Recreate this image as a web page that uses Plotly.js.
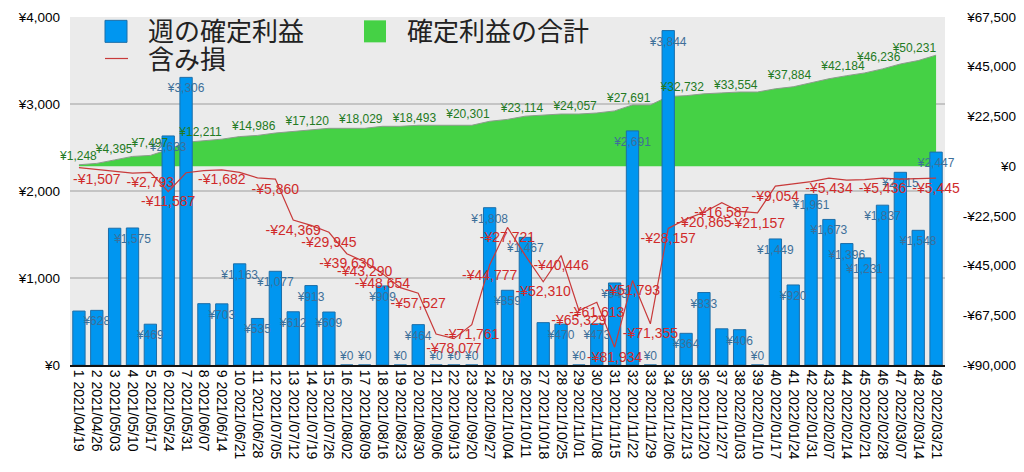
<!DOCTYPE html>
<html><head><meta charset="utf-8">
<script src="https://cdn.plot.ly/plotly-3.0.1.min.js"></script>
<style>html,body{margin:0;padding:0;background:#fff;} #chart{width:1024px;height:472px;}</style>
</head><body><div id="chart"></div>
<script>
const weeks = ['1 2021/04/19','2 2021/04/26','3 2021/05/03','4 2021/05/10','5 2021/05/17','6 2021/05/24','7 2021/05/31','8 2021/06/07','9 2021/06/14','10 2021/06/21','11 2021/06/28','12 2021/07/05','13 2021/07/12','14 2021/07/19','15 2021/07/26','16 2021/08/02','17 2021/08/09','18 2021/08/16','19 2021/08/23','20 2021/08/30','21 2021/09/06','22 2021/09/13','23 2021/09/20','24 2021/09/27','25 2021/10/04','26 2021/10/11','27 2021/10/18','28 2021/10/25','29 2021/11/01','30 2021/11/08','31 2021/11/15','32 2021/11/22','33 2021/11/29','34 2021/12/06','35 2021/12/13','36 2021/12/20','37 2021/12/27','38 2022/01/03','39 2022/01/10','40 2022/01/17','41 2022/01/24','42 2022/01/31','43 2022/02/07','44 2022/02/14','45 2022/02/21','46 2022/02/28','47 2022/03/07','48 2022/03/14','49 2022/03/21'];
const weeklyProfit = [620,628,1572,1575,469,2633,3306,705,703,1163,535,1077,612,913,609,0,0,909,0,464,0,0,0,1808,859,1467,487,470,0,473,943,2691,0,3844,364,833,416,406,0,1449,920,1961,1673,1396,1231,1837,2215,1548,2447];
const cumulativeProfit = [620,1248,2820,4395,4864,7497,10803,11508,12211,13374,13909,14986,15598,16511,17120,17120,17120,18029,18029,18493,18493,18493,18493,20301,21160,22627,23114,23584,23584,24057,25000,27691,27691,31535,31899,32732,33148,33554,33554,35003,35923,37884,39557,40953,42184,44021,46236,47784,50231];
const unrealizedLoss = [-700,-1507,-2600,-3200,-2793,-11587,-3000,-2000,-1682,-2800,-5300,-5860,-24369,-26800,-29945,-39630,-43290,-48654,-55000,-57527,-76000,-78077,-71761,-44777,-27721,-40500,-52310,-40446,-65329,-61613,-81934,-51793,-71355,-28157,-24000,-20865,-16587,-20500,-21157,-9054,-8000,-7000,-5434,-6300,-6100,-5436,-5900,-5700,-5445];
const barLabelHidden = [1,3,8,27,37];
const cumLabelShown = [2,4,6,9,12,15,18,21,24,27,30,33,36,39,42,45,47,49];
const lossLabelShown = [2,5,6,9,12,13,15,16,17,18,20,22,23,24,25,27,28,29,30,31,32,33,34,36,37,39,40,43,46,49];
const leftTicks = [0,1000,2000,3000,4000];
const rightTicks = [-90000,-67500,-45000,-22500,0,22500,45000,67500];
const seriesNames = ['週の確定利益','確定利益の合計','含み損'];

function yen(v){ const s='¥'+Math.abs(v).toLocaleString('en-US'); return v<0?'-'+s:s; }

const numFont = 'Liberation Sans, Arial, sans-serif';
const hiddenMarker = (size)=>({size:size, opacity:0, color:'rgba(0,0,0,0)'});
const data = [
  {type:'scatter', x:weeks, y:cumulativeProfit, yaxis:'y', mode:'lines', fill:'tozeroy',
   fillcolor:'#45d145', line:{color:'#8c9c8c', width:1}, name:seriesNames[1], legend:'legend', legendrank:2, hoverinfo:'skip'},
  {type:'bar', x:weeks, y:weeklyProfit, yaxis:'y2', name:seriesNames[0], legend:'legend', legendrank:1,
   marker:{color:'#0096f0', line:{color:'#1d6ea8', width:1}}, hoverinfo:'skip'},
  {type:'scatter', x:weeks, y:weeklyProfit, yaxis:'y2', mode:'markers+text', showlegend:false, cliponaxis:false,
   marker: hiddenMarker(weeklyProfit.map(v=> v>0 ? 8 : 2)),
   text: weeklyProfit.map((v,i)=> barLabelHidden.includes(i+1) ? '' : yen(v)),
   textposition: weeklyProfit.map(v=> v>0 ? 'bottom center' : 'top center'),
   textfont:{family:numFont, size:12, color:'#3d6f99'}, hoverinfo:'skip'},
  {type:'scatter', x:weeks, y:unrealizedLoss, yaxis:'y3', mode:'lines', name:seriesNames[2], legend:'legend2',
   line:{color:'#c83a3a', width:1.2}, hoverinfo:'skip'},
  {type:'scatter', x:weeks, y:cumulativeProfit, yaxis:'y3', mode:'text', showlegend:false, cliponaxis:false,
   text: cumulativeProfit.map((v,i)=> cumLabelShown.includes(i+1) ? yen(v) : ''),
   textposition:'top left', textfont:{family:numFont, size:12, color:'#237a23'}, hoverinfo:'skip'},
  {type:'scatter', x:weeks, y:unrealizedLoss, yaxis:'y3', mode:'markers+text', showlegend:false, cliponaxis:false,
   marker: hiddenMarker(5),
   text: unrealizedLoss.map((v,i)=> lossLabelShown.includes(i+1) ? yen(v) : ''),
   textposition:'bottom center', textfont:{family:numFont, size:14, color:'#d02a2a'}, hoverinfo:'skip'}
];

const legendBase = {orientation:'h', xanchor:'left', yanchor:'top', bgcolor:'rgba(0,0,0,0)', borderwidth:0,
  itemwidth:54, font:{family:'Noto Sans CJK JP, sans-serif', size:26, color:'#222'}};

const layout = {
  width:1024, height:472,
  margin:{l:70, r:8, t:17, b:107},
  paper_bgcolor:'#ffffff', plot_bgcolor:'#ebebeb',
  font:{family:numFont, color:'#000'},
  bargap:0.31,
  showlegend:true,
  xaxis:{type:'category', domain:[0, 875/946], anchor:'y', range:[-0.5, weeks.length-0.5],
    tickmode:'array', tickvals:weeks, ticktext:weeks, tickangle:90, tickfont:{size:14, color:'#000'},
    showline:true, linecolor:'#111', linewidth:2, showgrid:false, ticks:'', zeroline:false},
  yaxis:{side:'left', anchor:'free', position:1, range:[-90000,67500], tickvals:rightTicks, ticktext:rightTicks.map(yen),
    showgrid:false, zeroline:false, showline:false, ticks:'', tickfont:{size:13.5, color:'#000'}},
  yaxis2:{overlaying:'y', side:'left', anchor:'x', range:[0,4000], tickvals:leftTicks, ticktext:leftTicks.map(yen),
    showgrid:true, gridcolor:'#c4c4c4', gridwidth:1.5, zeroline:false, ticks:'', ticklabelstandoff:9,
    tickfont:{size:13.5, color:'#000'}},
  yaxis3:{overlaying:'y', range:[-90000,67500], visible:false},
  legend:Object.assign({}, legendBase, {x:14/946, y:1.026, entrywidth:190}),
  legend2:Object.assign({}, legendBase, {x:14/946, y:0.948})
};

const gd = document.getElementById('chart');
Plotly.newPlot(gd, data, layout, {staticPlot:true, displayModeBar:false}).then(()=>{
  gd.querySelectorAll('g.legend .legendpoints path').forEach(p=>p.setAttribute('d','M11,11H-11V-11H11Z'));
  gd.querySelectorAll('g.legend .legendfill path').forEach(p=>p.setAttribute('d','M21,-11h22v22h-22z'));
  gd.querySelectorAll('g.legend .legendlines path').forEach(p=>p.style.display='none');
  gd.querySelectorAll('g.legend2 .legendlines path').forEach(p=>p.setAttribute('d','M21,0h23'));
});
</script>
</body></html>
